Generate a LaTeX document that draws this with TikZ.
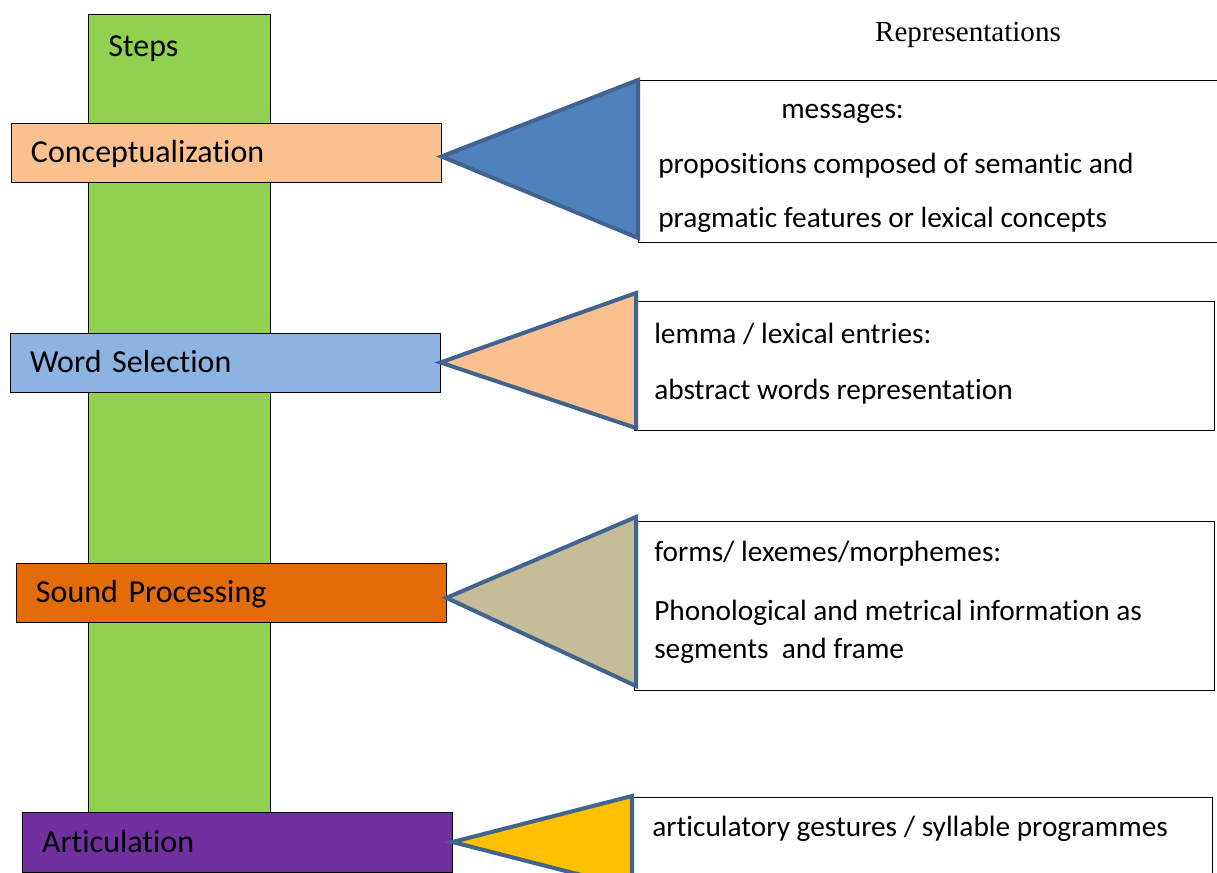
\documentclass[tikz,border=0pt]{standalone}
\usepackage{fontspec}
\setmainfont[Ligatures=NoCommon]{Carlito}
\newfontfamily\repfont{Liberation Serif}
\usepackage{xcolor}

\definecolor{barGreen}{HTML}{92D050}
\definecolor{peach}{HTML}{FAC090}
\definecolor{skyBlue}{HTML}{8DB3E2}
\definecolor{burnt}{HTML}{E36C09}
\definecolor{plum}{HTML}{7030A0}
\definecolor{wedgeBlue}{HTML}{4F81BD}
\definecolor{wedgeLine}{HTML}{41638F}
\definecolor{khaki}{HTML}{C4BD97}
\definecolor{amber}{HTML}{FFC000}

\tikzset{
  stepbox/.style={draw=black, line width=0.7pt, minimum height=44.25pt,
    text width=292.5pt, inner xsep=15pt, inner ysep=0pt, align=left,
    text height=20pt, text depth=4.5pt,
    font=\fontsize{24}{28}\selectfont},
  infobox/.style={draw=black, line width=0.7pt, fill=white, minimum width=435pt},
  infotext/.style={anchor=west, inner sep=0pt, yshift=-2.2pt, font=\fontsize{22}{26}\selectfont},
  wedge/.style={draw=wedgeLine, line width=3pt, line join=miter}
}

\begin{document}
\begin{tikzpicture}[x=0.75pt,y=-0.75pt]
        \useasboundingbox (0,0) rectangle (1217,873);

        % steps column
        \node[draw=black, line width=0.7pt, fill=barGreen, minimum width=136.5pt, minimum height=598.5pt] (bar) at (179,413) {};
        \node[anchor=west, inner sep=0pt, font=\fontsize{24}{28}\selectfont] (steps) at (108,49) {Steps};
        \node[font=\repfont\fontsize{21.8}{26}\selectfont, inner sep=0pt] (rep) at (968,35) {Representations};

        \node[stepbox, fill=peach] (conc) at (226,152.5) {Conceptualization};
        \node[stepbox, fill=skyBlue] (word) at (225,362.5) {Word Selection};
        \node[stepbox, fill=burnt] (sound) at (231,592.5) {Sound Processing};
        \node[stepbox, fill=plum, minimum height=45pt] (artic) at (237,842) {Articulation};

        % representation boxes
        \node[infobox, minimum height=121.5pt] (msg) at (928,161) {};
        \node[infobox, minimum height=96.75pt] (lemma) at (924,365.5) {};
        \node[infobox, minimum height=126.75pt] (form) at (924,605.5) {};
        \node[infobox, minimum height=77.25pt] (gest) at (922,848.5) {};

        \draw[wedge, fill=wedgeBlue] ([yshift=-3pt]conc.east) -- (638,80) -- (638,238) -- cycle;
        \draw[wedge, fill=peach] (word.east) -- (636,293) -- (636,428) -- cycle;
        \draw[wedge, fill=khaki] ([yshift=-4pt]sound.east) -- (636,517) -- (636,686) -- cycle;
        \draw[wedge, fill=amber] (artic.east) -- (632,796) -- (632,888) -- cycle;

        \node[infotext] (msgA) at (781,111) {messages:};
        \node[infotext] (msgB) at (658,163) {propositions composed of semantic and};
        \node[infotext] (msgC) at (658,217) {pragmatic features or lexical concepts};

        \node[infotext] (lemmaA) at (654,331) {lemma / lexical entries:};
        \node[infotext] (lemmaB) at (654,389) {abstract words representation};

        \node[infotext] (formA) at (654,551) {forms/ lexemes/morphemes:};
        \node[infotext] (formB) at (654,610) {Phonological and metrical information as};
        \node[infotext] (formC) at (654,648) {segments\ \ and frame};

        \node[infotext] (gestA) at (652,826) {articulatory gestures / syllable programmes};
      \end{tikzpicture}
\end{document}
